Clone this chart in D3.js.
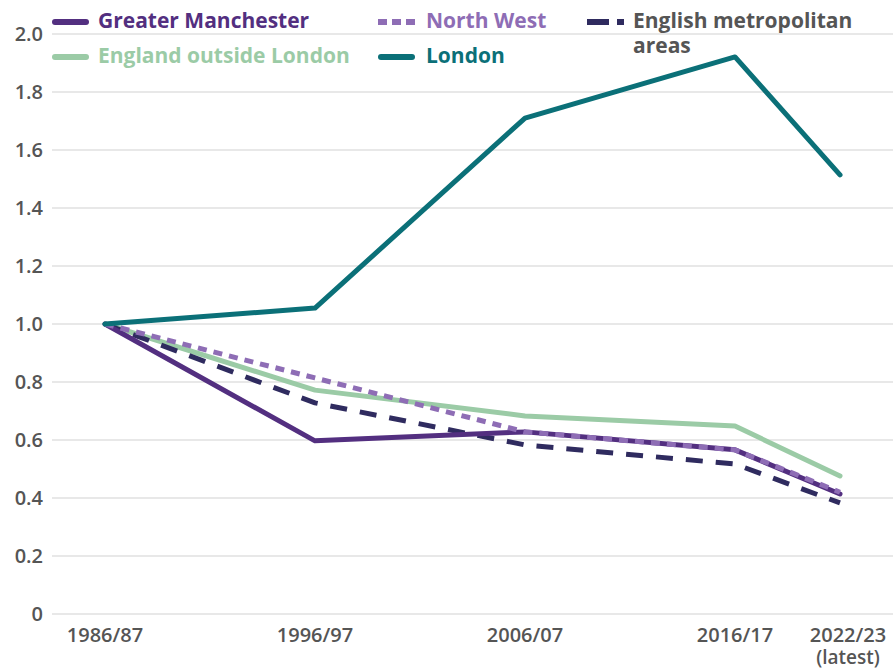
<!DOCTYPE html>
<html><head><meta charset="utf-8">
<script src="https://cdn.jsdelivr.net/npm/d3@7/dist/d3.min.js"></script>
<style>body{margin:0;background:#fff}svg{display:block}</style>
</head><body>
<svg id="c" width="893" height="669"></svg>
<script>
const periods = ["1986/87","1996/97","2006/07","2016/17","2022/23"];
const periodSub = ["","","","","(latest)"];
const periodYears = [1986,1996,2006,2016,2022];
const yTicks = [0,0.2,0.4,0.6,0.8,1.0,1.2,1.4,1.6,1.8,2.0];
const greaterManchester = [1.0,0.597,0.628,0.566,0.414];
const northWest = [1.0,0.814,0.628,0.566,0.42];
const englishMetro = [1.0,0.728,0.583,0.517,0.383];
const englandOutsideLondon = [1.0,0.772,0.683,0.648,0.476];
const london = [1.0,1.055,1.710,1.921,1.514];

const series = [
  {name:"England outside London", values:englandOutsideLondon, color:"#9bcba6", dash:null},
  {name:"English metropolitan areas", values:englishMetro, color:"#2f2b5f", dash:"17,13"},
  {name:"Greater Manchester", values:greaterManchester, color:"#532f80", dash:null},
  {name:"North West", values:northWest, color:"#8e6db5", dash:"9,7"},
  {name:"London", values:london, color:"#0b7078", dash:null}
];

const svg = d3.select("#c");
const mLeft = 52, mRight = 893, mTop = 34, mBottom = 614;
const y = d3.scaleLinear().domain([0,2]).range([mBottom, mTop]);
const x = d3.scaleLinear().domain([1986,2016,2022]).range([105,735,840]);
const font = "'Open Sans', Roboto, sans-serif";

// gridlines
svg.append("g").selectAll("line").data(yTicks).join("line")
  .attr("x1", mLeft).attr("x2", mRight)
  .attr("y1", d=>y(d)).attr("y2", d=>y(d))
  .attr("stroke","#e0e0e0").attr("stroke-width",1.5);

// y tick labels
svg.append("g").selectAll("text").data(yTicks).join("text")
  .attr("x", 43).attr("y", d=>y(d)).attr("dy","0.36em")
  .attr("text-anchor","end")
  .attr("font-family",font).attr("font-weight",600).attr("font-size",20)
  .attr("fill","#555").text(d=> d===0 ? "0" : d3.format(".1f")(d));

// x labels (multi-line labels as one text with tspans)
const xl = svg.append("g");
periods.forEach((p,i)=>{
  let cx = x(periodYears[i]);
  if (i === periods.length-1) cx = 848;
  const t = xl.append("text").attr("x",cx).attr("y",642).attr("text-anchor","middle")
    .attr("font-family",font).attr("font-weight",600).attr("font-size",20)
    .attr("fill","#555");
  t.append("tspan").attr("x",cx).text(p);
  if (periodSub[i]) t.append("tspan").attr("x",cx).attr("dy",22).attr("font-size",19).text(periodSub[i]);
});

// lines
const line = d3.line().x((d,i)=>x(periodYears[i])).y(d=>y(d));
series.forEach(s=>{
  svg.append("path").datum(s.values).attr("d",line)
    .attr("fill","none").attr("stroke",s.color).attr("stroke-width",5)
    .attr("stroke-linejoin","round")
    .attr("stroke-linecap", s.dash ? "butt" : "round")
    .attr("stroke-dasharray", s.dash);
});

// legend
const legend = [
  {name:"Greater Manchester", color:"#532f80", dash:null, x:52, y:22, tx:98, tc:"#532f80"},
  {name:"North West", color:"#8e6db5", dash:"9,5", x:378, y:22, tx:426, tc:"#8e6db5"},
  {name:"English metropolitan", name2:"areas", color:"#2f2b5f", dash:"22,8", x:587, y:22, tx:633, tc:"#555"},
  {name:"England outside London", color:"#9bcba6", dash:null, x:52, y:57, tx:98, tc:"#9bcba6"},
  {name:"London", color:"#0b7078", dash:null, x:378, y:57, tx:426, tc:"#0b7078"}
];
const lg = svg.append("g");
legend.forEach(l=>{
  const sw = l.dash ? 0 : 3;
  lg.append("line").attr("x1",l.x+sw).attr("x2",l.x+37-sw).attr("y1",l.y).attr("y2",l.y)
    .attr("stroke",l.color).attr("stroke-width",6)
    .attr("stroke-linecap", l.dash ? "butt":"round")
    .attr("stroke-dasharray", l.dash);
  const t = lg.append("text").attr("x",l.tx).attr("y",l.y+6)
    .attr("font-family",font).attr("font-weight",700).attr("font-size",21)
    .attr("fill",l.tc);
  t.append("tspan").attr("x",l.tx).text(l.name);
  if (l.name2) t.append("tspan").attr("x",l.tx).attr("dy",25).text(l.name2);
});
</script>
</body></html>
